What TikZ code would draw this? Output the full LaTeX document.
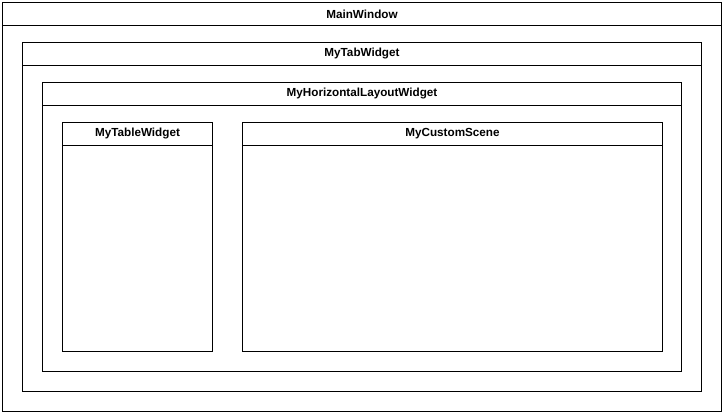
\documentclass[tikz,border=0pt]{standalone}
\usepackage{fontspec}
\setmainfont{Liberation Sans}
\begin{document}
\begin{tikzpicture}[x=1pt,y=-1pt,line width=1pt,
  hdr/.style={font=\bfseries\fontsize{11.7}{14}\selectfont,inner sep=0pt,anchor=center}]
\useasboundingbox (0,0) rectangle (724,414);
\fill[white] (0,0) rectangle (724,414);
% MainWindow
\draw (2.5,2.5) rectangle (721.5,411.5);
\draw (2.5,25.5) -- (721.5,25.5);
\node[hdr] (mw) at (362,14) {MainWindow};
% MyTabWidget
\draw (22.5,42.5) rectangle (701.5,391.5);
\draw (22.5,65.5) -- (701.5,65.5);
\node[hdr] (tw) at (362,54) {MyTabWidget};
% MyHorizontalLayoutWidget
\draw (42.5,82.5) rectangle (681.5,371.5);
\draw (42.5,105.5) -- (681.5,105.5);
\node[hdr] (hl) at (362,94) {MyHorizontalLayoutWidget};
% MyTableWidget
\draw (62.5,122.5) rectangle (212.5,351.5);
\draw (62.5,145.5) -- (212.5,145.5);
\node[hdr] (tb) at (137.5,134) {MyTableWidget};
% MyCustomScene
\draw (242.5,122.5) rectangle (662.5,351.5);
\draw (242.5,145.5) -- (662.5,145.5);
\node[hdr] (cs) at (452.5,134) {MyCustomScene};
\end{tikzpicture}
\end{document}
